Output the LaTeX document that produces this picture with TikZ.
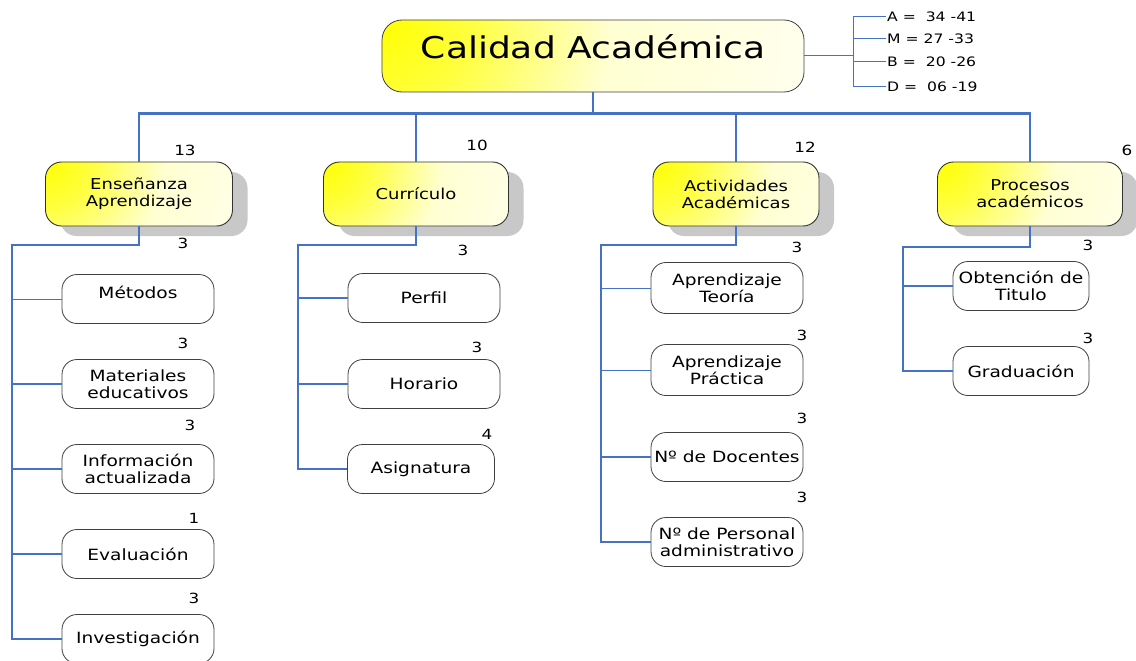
\documentclass[tikz,border=0pt]{standalone}
\usepackage{fontspec}
\setmainfont[FakeStretch=1.2]{DejaVu Sans}
\usepackage{tikz}
\usetikzlibrary{positioning,shapes,calc,shadows}
\definecolor{linkblue}{RGB}{68,114,196}
\definecolor{shadowgray}{RGB}{200,200,200}
\definecolor{paleyellow}{RGB}{255,255,210}
\pgfdeclareradialshading{cornerglow}{\pgfpoint{0bp}{0bp}}{color(0bp)=(yellow); color(5bp)=(yellow!70!paleyellow); color(13bp)=(paleyellow); color(25bp)=(paleyellow!35!white); color(50bp)=(paleyellow!35!white)}
\tikzset{
  link/.style = {draw = linkblue, line width = 2.4pt},
  thinlink/.style = {draw = linkblue, line width = 1pt},
  glow/.style = {fill = paleyellow!35!white, path picture = {\shade[shading = cornerglow] (path picture bounding box.north west) circle (#1);}},
  rootbox/.style = {draw = black!75, line width = .8pt, rounded corners = 20pt, glow = 440pt, minimum width = 422pt, minimum height = 72pt, text depth = 19pt, font = \fontsize{30}{33}\selectfont},
  topic/.style = {draw = black!80, line width = .9pt, rounded corners = 16pt, glow = 230pt, minimum height = 64pt, align = center, font = \fontsize{15}{17}\selectfont, drop shadow = {shadow xshift = 15pt, shadow yshift = -10pt, fill = shadowgray, opacity = 1}},
  item/.style = {draw = black!75, line width = .8pt, rounded corners = 15pt, fill = white, minimum width = 152pt, minimum height = 49pt, align = center, font = \fontsize{15.5}{17}\selectfont},
  count/.style = {font = \fontsize{14}{16}\selectfont},
  legend/.style = {anchor = west, inner sep = 1pt, font = \fontsize{13}{15}\selectfont}
}
\begin{document}
\begin{tikzpicture}[x = 1pt, y = -1pt]
\useasboundingbox (0,0) rectangle (1136,661);

% root and scale
\node[rootbox] (root) at (593,56) {Calidad Académica};
\node[legend] (lgA) at (886,17) {A = \ 34 -41};
\node[legend] (lgM) at (886,39) {M = 27 -33};
\node[legend] (lgB) at (886,62) {B = \ 20 -26};
\node[legend] (lgD) at (886,87) {D = \ 06 -19};
\draw[thinlink] (root.east) -- ++(49,0) coordinate (lgjoint);
\foreach \k in {A,M,B,D} \draw[thinlink] (lg\k.west) -| (lgjoint);

% first level
\node[topic, minimum width = 187pt] (ens) at (139,194) {Enseñanza\\Aprendizaje};
\node[topic, minimum width = 185pt] (cur) at (416,194) {Currículo};
\node[topic, minimum width = 166pt] (act) at (736,194) {Actividades\\Académicas};
\node[topic, minimum width = 185pt] (pro) at (1030,194) {Procesos\\académicos};
\foreach \n in {ens,cur,act,pro} \draw[link] (root.south) -- ++(0,21) -| (\n.north);
\node[count] at (185,150) {13};
\node[count] at (477,145) {10};
\node[count] at (805,147) {12};
\node[count] at (1127,150) {6};

% Enseñanza Aprendizaje
\coordinate (enstrunk) at (12,245);
\node[item, text depth = 14pt] (met) at (138,299) {Métodos};
\node[item] (mat) at (138,384) {Materiales\\educativos};
\node[item] (inf) at (138,469) {Información\\actualizada};
\node[item] (eva) at (138,554) {Evaluación};
\node[item] (inv) at (138,639) {Investigación};
\draw[link] (ens.south) |- (enstrunk) |- (inv.west);
\draw[thinlink] (enstrunk |- met.west) -- (met.west);
\foreach \n in {mat,inf,eva} \draw[link] (enstrunk |- \n.west) -- (\n.west);
\node[count] at (183,243) {3};
\node[count] at (183,343) {3};
\node[count] at (190,425) {3};
\node[count] at (194,518) {1};
\node[count] at (194,598) {3};

% Currículo
\coordinate (curtrunk) at (298,245);
\node[item] (per) at (424,298) {Perfil};
\node[item] (hor) at (424,384) {Horario};
\node[item, minimum width = 147pt] (asi) at (421,469) {Asignatura};
\draw[link] (cur.south) |- (curtrunk) |- (asi.west);
\draw[link] (curtrunk |- per.west) -- (per.west);
\draw[link] (curtrunk |- hor.west) -- (hor.west);
\node[count] at (463,250) {3};
\node[count] at (477,347) {3};
\node[count] at (487,434) {4};

% Actividades Académicas
\coordinate (acttrunk) at (601,245);
\node[item, minimum height = 51pt] (teo) at (727,288) {Aprendizaje\\Teoría};
\node[item, minimum height = 51pt] (pra) at (727,370) {Aprendizaje\\Práctica};
\node[item] (doc) at (727,457) {Nº de Docentes};
\node[item] (adm) at (727,542) {Nº de Personal\\administrativo};
\draw[link] (act.south) |- (acttrunk) |- (adm.west);
\draw[thinlink] (acttrunk |- teo.west) -- (teo.west);
\draw[thinlink] (acttrunk |- pra.west) -- (pra.west);
\draw[link] (acttrunk |- doc.west) -- (doc.west);
\node[count] at (797,247) {3};
\node[count] at (802,335) {3};
\node[count] at (802,418) {3};
\node[count] at (802,497) {3};

% Procesos académicos
\coordinate (protrunk) at (903,247);
\node[item, minimum width = 136pt] (obt) at (1021,286) {Obtención de\\Titulo};
\node[item, minimum width = 136pt] (gra) at (1021,371) {Graduación};
\draw[link] (pro.south) |- (protrunk) |- (gra.west);
\draw[link] (protrunk |- obt.west) -- (obt.west);
\node[count] at (1088,245) {3};
\node[count] at (1088,338) {3};
\end{tikzpicture}
\end{document}
